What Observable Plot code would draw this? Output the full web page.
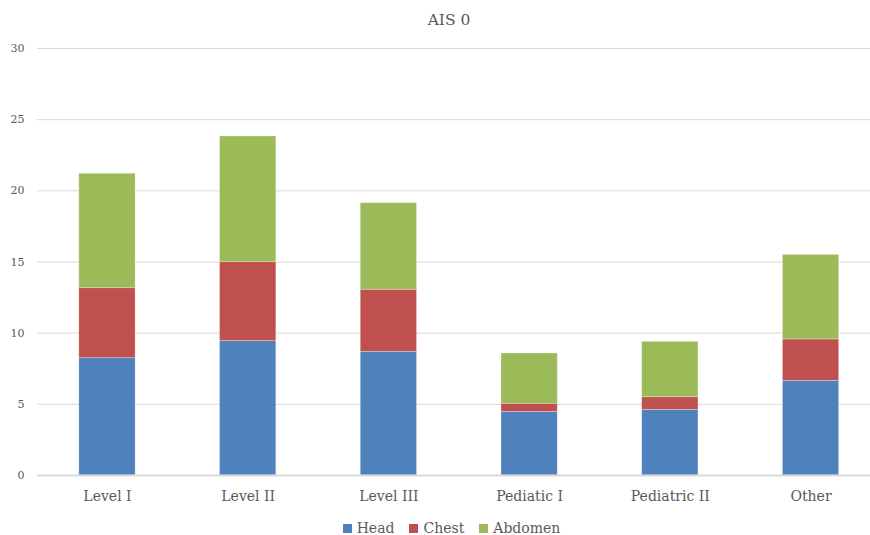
<!DOCTYPE html>
<html>
<head>
<meta charset="utf-8">
<script src="https://cdn.jsdelivr.net/npm/d3@7"></script>
<script src="https://cdn.jsdelivr.net/npm/@observablehq/plot@0.6"></script>
<style>
  body { margin: 0; background: #fff; font-family: "DejaVu Serif", serif; color: #595959; }
  #wrap { width: 870px; height: 535px; position: relative; overflow: hidden; }
  #title { height: 40px; line-height: 40px; font-size: 15.5px; text-align: center; padding-left: 28px; box-sizing: border-box; }
  #legend { display: flex; justify-content: center; align-items: center; padding-left: 33px; height: 46px; font-size: 14px; gap: 15px; }
  #legend .item { display: flex; align-items: center; gap: 5px; }
  #legend .sw { width: 9px; height: 9px; display: inline-block; }
  svg { display: block; }
</style>
</head>
<body>
<div id="wrap">
  <div id="title">AIS 0</div>
  <div id="chart"></div>
  <div id="legend"></div>
</div>
<script>
// Trauma center categories
const categories = ["Level I", "Level II", "Level III", "Pediatic I", "Pediatric II", "Other"];
// Stacked series, bottom to top
const seriesNames = ["Head", "Chest", "Abdomen"];
const seriesColors = ["#4f81bd", "#c0504d", "#9bbb59"];
const head    = [8.24, 9.44, 8.69, 4.47, 4.61, 6.65];
const chest   = [4.92, 5.55, 4.36, 0.57, 0.89, 2.91];
const abdomen = [8.04, 8.83, 6.08, 3.53, 3.89, 5.94];
const yTicks = [0, 5, 10, 15, 20, 25, 30];

const seriesValues = [head, chest, abdomen];
const rows = [];
seriesNames.forEach((s, i) => {
  categories.forEach((c, j) => rows.push({category: c, series: s, value: seriesValues[i][j]}));
});

const chart = Plot.plot({
  width: 870,
  height: 465,
  marginTop: 8,
  marginBottom: 30,
  marginLeft: 37,
  marginRight: 0,
  style: {fontFamily: "DejaVu Serif, serif", color: "#595959", background: "#fff"},
  x: {domain: categories, range: [36.6, 880.9], paddingInner: 0.6, paddingOuter: 0.3, round: false, label: null},
  y: {domain: [0, 30], label: null},
  color: {domain: seriesNames, range: seriesColors},
  marks: [
    Plot.ruleY(yTicks.filter(d => d > 0), {stroke: "#d9d9d9", strokeWidth: 1}),
    Plot.barY(rows, {x: "category", y: "value", fill: "series", stroke: "#ffffff", strokeOpacity: 0.35, strokeWidth: 0.8}),
    Plot.ruleY([0], {stroke: "#d9d9d9", strokeWidth: 2}),
    Plot.axisY({ticks: yTicks, tickSize: 0, tickPadding: 13, label: null, fontSize: 11, fill: "#595959"}),
    Plot.axisX({tickSize: 0, tickPadding: 16, label: null, fontSize: 14, fill: "#595959"})
  ]
});
document.getElementById("chart").appendChild(chart);

const legend = document.getElementById("legend");
seriesNames.forEach((s, i) => {
  const item = document.createElement("span");
  item.className = "item";
  const sw = document.createElement("span");
  sw.className = "sw";
  sw.style.background = seriesColors[i];
  item.appendChild(sw);
  item.appendChild(document.createTextNode(s));
  legend.appendChild(item);
});
</script>
</body>
</html>
